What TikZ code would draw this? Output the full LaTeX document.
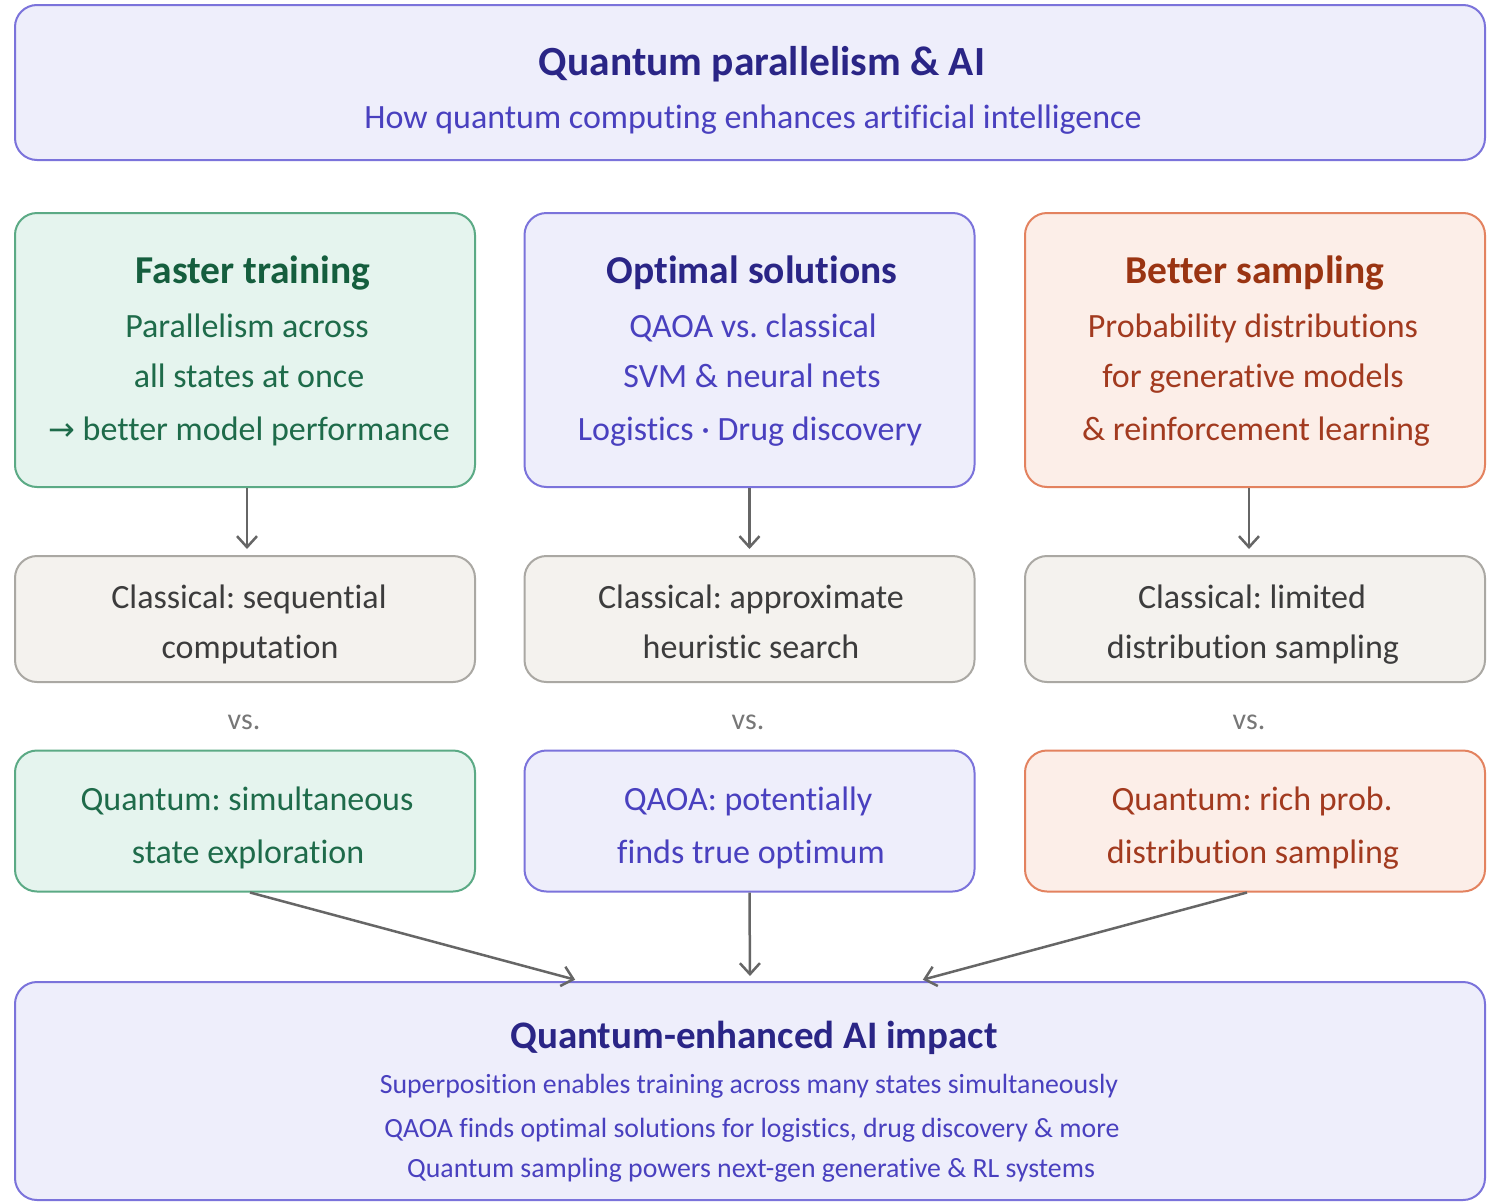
\documentclass[tikz,border=0pt]{standalone}
\usepackage{fontspec}
\setmainfont{Carlito}[Ligatures={NoCommon}]
\newfontfamily\arrowfont{DejaVu Sans}
\usetikzlibrary{arrows.meta}
\frenchspacing
\definecolor{pBd}{HTML}{7B73DB}
\definecolor{pFl}{HTML}{EEEEFB}
\definecolor{pTi}{HTML}{2A2586}
\definecolor{pTx}{HTML}{4940BF}
\definecolor{gBd}{HTML}{5BAA85}
\definecolor{gFl}{HTML}{E5F4EE}
\definecolor{gTi}{HTML}{155E3E}
\definecolor{gTx}{HTML}{1E6B4A}
\definecolor{oBd}{HTML}{E3825F}
\definecolor{oFl}{HTML}{FCEEE8}
\definecolor{oTi}{HTML}{9A3412}
\definecolor{oTx}{HTML}{A23A1F}
\definecolor{cBd}{HTML}{AAA8A3}
\definecolor{cFl}{HTML}{F4F2EE}
\definecolor{cTx}{HTML}{3C3C3C}
\definecolor{vsC}{HTML}{777777}
\definecolor{arC}{HTML}{666666}
\tikzset{
  card/.style={draw, line width=2pt, rounded corners=22pt, inner sep=0pt, minimum width=460pt},
  gcard/.style={card, draw=gBd, fill=gFl},
  pcard/.style={card, draw=pBd, fill=pFl},
  ocard/.style={card, draw=oBd, fill=oFl},
  ccard/.style={card, draw=cBd, fill=cFl},
  txt/.style={anchor=base, inner sep=0pt, font=\fontsize{34}{40}\selectfont},
  ttl/.style={anchor=base, inner sep=0pt, font=\fontsize{39.5}{46}\selectfont\bfseries},
  vstxt/.style={anchor=base, inner sep=0pt, text=vsC, font=\fontsize{30}{36}\selectfont},
  arr/.style={draw=arC, line width=2.5pt, -{Straight Barb[length=11pt,width=20pt,line width=2.5pt]}},
}
\begin{document}
\begin{tikzpicture}[x=1pt,y=-1pt]
\useasboundingbox (0,0) rectangle (1491,1202);
\fill[white] (0,0) rectangle (1491,1202);

% header
\node[pcard, minimum width=1470pt, minimum height=155pt] (head) at (750,82.5) {};
\node[anchor=base, inner sep=0pt, text=pTi, font=\fontsize{41.5}{50}\selectfont\bfseries] (headT) at (762,75) {Quantum parallelism \& AI};
\node[anchor=base, inner sep=0pt, text=pTx, font=\fontsize{34}{40}\selectfont] (headS) at (753,128) {How quantum computing enhances artificial intelligence};

% row 1
\node[gcard, minimum height=274pt] (ft) at (245,350) {};
\node[pcard, minimum width=450pt, minimum height=274pt] (os) at (749.5,350) {};
\node[ocard, minimum height=274pt] (bs) at (1255,350) {};

\node[ttl, text=gTi] (ftT) at (253,283) {Faster training};
\node[txt, text=gTx] (ft1) at (247,337) {Parallelism across};
\node[txt, text=gTx] (ft2) at (249,387) {all states at once};
\node[txt, text=gTx] (ft3) at (249,440) {{\arrowfont\fontsize{32}{36}\selectfont→}\ better model performance};

\node[ttl, text=pTi] (osT) at (752,283) {Optimal solutions};
\node[txt, text=pTx] (os1) at (753,337) {QAOA vs. classical};
\node[txt, text=pTx] (os2) at (752,387) {SVM \& neural nets};
\node[txt, text=pTx] (os3) at (750,440) {Logistics · Drug discovery};

\node[ttl, text=oTi] (bsT) at (1255,283) {Better sampling};
\node[txt, text=oTx] (bs1) at (1253,337) {Probability distributions};
\node[txt, text=oTx] (bs2) at (1253,387) {for generative models};
\node[txt, text=oTx] (bs3) at (1256,440) {\& reinforcement learning};

% row 2
\node[ccard, minimum height=126pt] (fc) at (245,619) {};
\node[ccard, minimum width=450pt, minimum height=126pt] (oc) at (749.5,619) {};
\node[ccard, minimum height=126pt] (bc) at (1255,619) {};

\node[txt, text=cTx] (fc1) at (249,608) {Classical: sequential};
\node[txt, text=cTx] (fc2) at (250,658) {computation};
\node[txt, text=cTx] (oc1) at (751,608) {Classical: approximate};
\node[txt, text=cTx] (oc2) at (751,658) {heuristic search};
\node[txt, text=cTx] (bc1) at (1252,608) {Classical: limited};
\node[txt, text=cTx] (bc2) at (1253,658) {distribution sampling};

% vs
\node[vstxt] (vs1) at (244,729) {vs.};
\node[vstxt] (vs2) at (748,729) {vs.};
\node[vstxt] (vs3) at (1249,729) {vs.};

% row 3
\node[gcard, minimum height=141pt] (fq) at (245,821) {};
\node[pcard, minimum width=450pt, minimum height=141pt] (oq) at (749.5,821) {};
\node[ocard, minimum height=141pt] (bq) at (1255,821) {};

\node[txt, text=gTx] (fq1) at (247,810) {Quantum: simultaneous};
\node[txt, text=gTx] (fq2) at (248,863) {state exploration};
\node[txt, text=pTx] (oq1) at (748,810) {QAOA: potentially};
\node[txt, text=pTx] (oq2) at (751,863) {finds true optimum};
\node[txt, text=oTx] (bq1) at (1252,810) {Quantum: rich prob.};
\node[txt, text=oTx] (bq2) at (1253,863) {distribution sampling};

% bottom
\node[pcard, minimum width=1470pt, minimum height=218pt] (imp) at (750,1091) {};
\node[anchor=base, inner sep=0pt, text=pTi, font=\fontsize{39}{46}\selectfont\bfseries] (impT) at (754,1048) {Quantum-enhanced AI impact};
\node[anchor=base, inner sep=0pt, text=pTx, font=\fontsize{27.8}{33}\selectfont] (imp1) at (749,1093) {Superposition enables training across many states simultaneously};
\node[anchor=base, inner sep=0pt, text=pTx, font=\fontsize{27.8}{33}\selectfont] (imp2) at (752,1137) {QAOA finds optimal solutions for logistics, drug discovery \& more};
\node[anchor=base, inner sep=0pt, text=pTx, font=\fontsize{27.8}{33}\selectfont] (imp3) at (751,1177) {Quantum sampling powers next-gen generative \& RL systems};

% arrows
\draw[arr, shorten >=6pt] ([xshift=2pt]ft.south) -- ([xshift=2pt]fc.north);
\draw[arr, shorten >=6pt] (os.south) -- (oc.north);
\draw[arr, shorten >=6pt] ([xshift=-6pt]bs.south) -- ([xshift=-6pt]bc.north);
\draw[arr, shorten >=5pt] ([xshift=5pt]fq.south) -- ([xshift=-170pt]imp.north);
\draw[arr, shorten >=5pt] (oq.south) -- (imp.north);
\draw[arr, shorten >=5pt] ([xshift=-8pt]bq.south) -- ([xshift=168pt]imp.north);
\end{tikzpicture}
\end{document}
